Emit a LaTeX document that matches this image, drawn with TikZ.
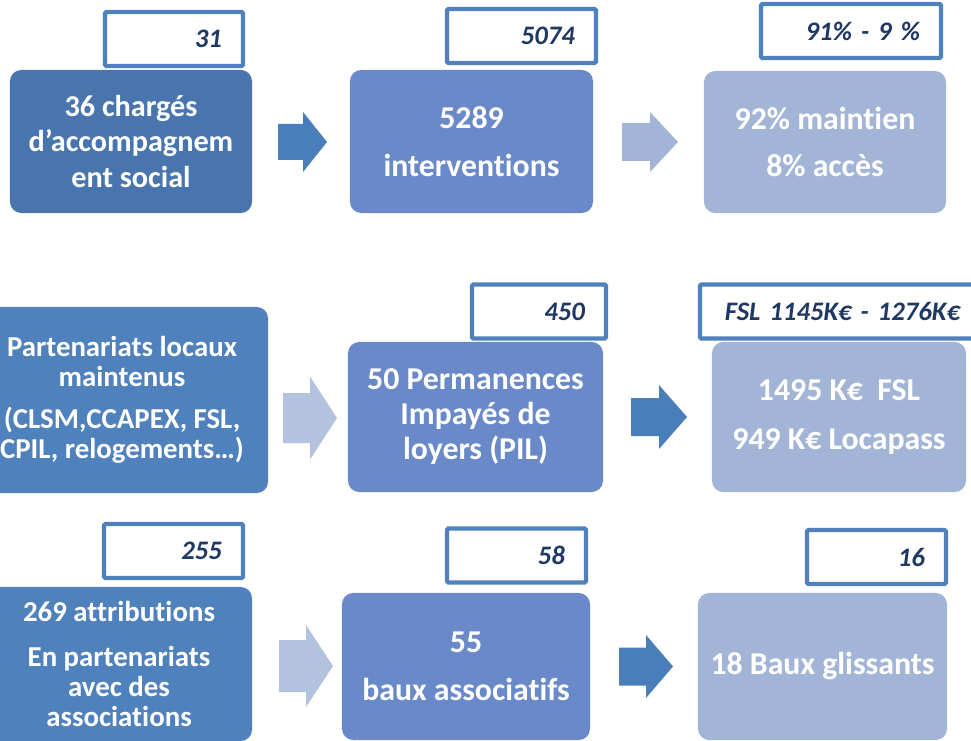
\documentclass[tikz,border=0pt]{standalone}
\usepackage{fontspec}
\setmainfont{Carlito}[Ligatures=NoCommon]
\usepackage{tikz}
\definecolor{white}{rgb}{1.0, 1.0, 1.0}
\definecolor{darkblue}{RGB}{72,117,173}
\definecolor{midblue}{RGB}{79,129,189}
\definecolor{lavblue}{RGB}{106,137,200}
\definecolor{paleblue}{RGB}{163,181,214}
\definecolor{palearrow}{RGB}{179,195,223}
\definecolor{arrowblue}{RGB}{74,126,187}
\definecolor{navy}{RGB}{31,56,100}
\pgfdeclarelayer{edgelayer}
\pgfdeclarelayer{nodelayer}
\pgfsetlayers{edgelayer,nodelayer,main}
\tikzstyle{box}=[rectangle,rounded corners=8pt,text=white,align=center,inner sep=0pt]
\tikzstyle{tag}=[rectangle,draw=midblue,line width=3pt,fill=white,rounded corners=1pt,text=navy,align=right,inner xsep=0.525cm,inner ysep=0pt,minimum height=1.35cm,font=\fontsize{19}{23}\selectfont\bfseries\itshape]
\tikzstyle{big}=[font=\fontsize{22.6}{27.5}\selectfont\bfseries]
\tikzstyle{mid}=[font=\fontsize{22.6}{24.9}\selectfont\bfseries]
\tikzstyle{small}=[font=\fontsize{20.5}{21.3}\selectfont\bfseries]
% block arrow: x start, x head, x tip, y centre, head half, shaft half, colour
\newcommand{\blockarrow}[7]{\fill[#7] (#1,#4-#6) -- (#2,#4-#6) -- (#2,#4-#5) -- (#3,#4) -- (#2,#4+#5) -- (#2,#4+#6) -- (#1,#4+#6) -- cycle;}

\begin{document}
\begin{tikzpicture}[x=0.025cm,y=-0.025cm]
        \useasboundingbox (0,0) rectangle (971,741);
        \begin{pgfonlayer}{nodelayer}
            % first row
            \node [style = box, fill=darkblue, font=\fontsize{21.5}{24.9}\selectfont\bfseries, minimum width=6.05cm, minimum height=3.575cm] (staff) at (131, 141.5) {36 chargés\\d’accompagnem\\ent social};
            \node [style = box, style = big, fill=lavblue, minimum width=6.075cm, minimum height=3.575cm] (interv) at (471.5, 141.5) {5289\\[6.6pt]interventions};
            \node [style = box, style = big, fill=paleblue, minimum width=6.05cm, minimum height=3.55cm] (share) at (825, 142) {92\% maintien\\[6.6pt]8\% accès};

            \node [style = tag, text width=2.4cm] (staffprev) at (174, 39) {31};
            \node [style = tag, text width=2.675cm] (intervprev) at (521.5, 36) {5074};
            \node [style = tag, text width=3.45cm] (shareprev) at (851, 31) {91\% - 9 \%};

            % second row
            \node [style = box, style = small, fill=midblue, minimum width=7.3cm, minimum height=4.65cm] (partners) at (122, 400) {Partenariats locaux\\maintenus\\[8.6pt](CLSM,CCAPEX, FSL,\\CPIL, relogements…)};
            \node [style = box, style = mid, fill=lavblue, minimum width=6.375cm, minimum height=3.75cm] (pil) at (475.5, 417) {50 Permanences\\Impayés de\\loyers (PIL)};
            \node [style = box, style = mid, fill=paleblue, minimum width=6.35cm, minimum height=3.75cm] (funds) at (839, 417) {1495 K€~~FSL\\[10pt]949 K€ Locapass};

            \node [style = tag, text width=2.3cm] (pilprev) at (539, 311.5) {450};
            \node [style = tag, inner xsep=0.45cm, text width=6.05cm] (fundsprev) at (839, 311.5) {FSL 1145K€ - 1276K€};

            % third row
            \node [style = box, style = small, fill=midblue, minimum width=6.65cm, minimum height=3.85cm] (attrib) at (119, 664) {269 attributions\\[10.7pt]En partenariats\\avec des\\associations};
            \node [style = box, style = big, fill=lavblue, minimum width=6.2cm, minimum height=3.675cm] (leases) at (466, 666.5) {55\\[6.6pt]baux associatifs};
            \node [style = box, style = big, fill=paleblue, minimum width=6.225cm, minimum height=3.675cm] (sliding) at (822.5, 666.5) {18 Baux glissants};

            \node [style = tag, text width=2.425cm] (attribprev) at (173.5, 551) {255};
            \node [style = tag, text width=2.425cm] (leasesprev) at (516.5, 555.5) {58};
            \node [style = tag, text width=2.425cm] (slidingprev) at (876.5, 557) {16};
        \end{pgfonlayer}

        \begin{pgfonlayer}{edgelayer}
            \blockarrow{278}{303}{327}{142}{30}{18}{arrowblue}
            \blockarrow{622}{650}{678}{142}{30}{19}{paleblue}

            \blockarrow{283}{310}{337}{418}{41.5}{25}{palearrow}
            \blockarrow{631}{659}{687}{417}{32}{19}{arrowblue}

            \blockarrow{279}{306}{333}{666}{41}{26}{palearrow}
            \blockarrow{619}{646}{673}{666.5}{31.5}{19}{arrowblue}
        \end{pgfonlayer}
    \end{tikzpicture}
\end{document}
